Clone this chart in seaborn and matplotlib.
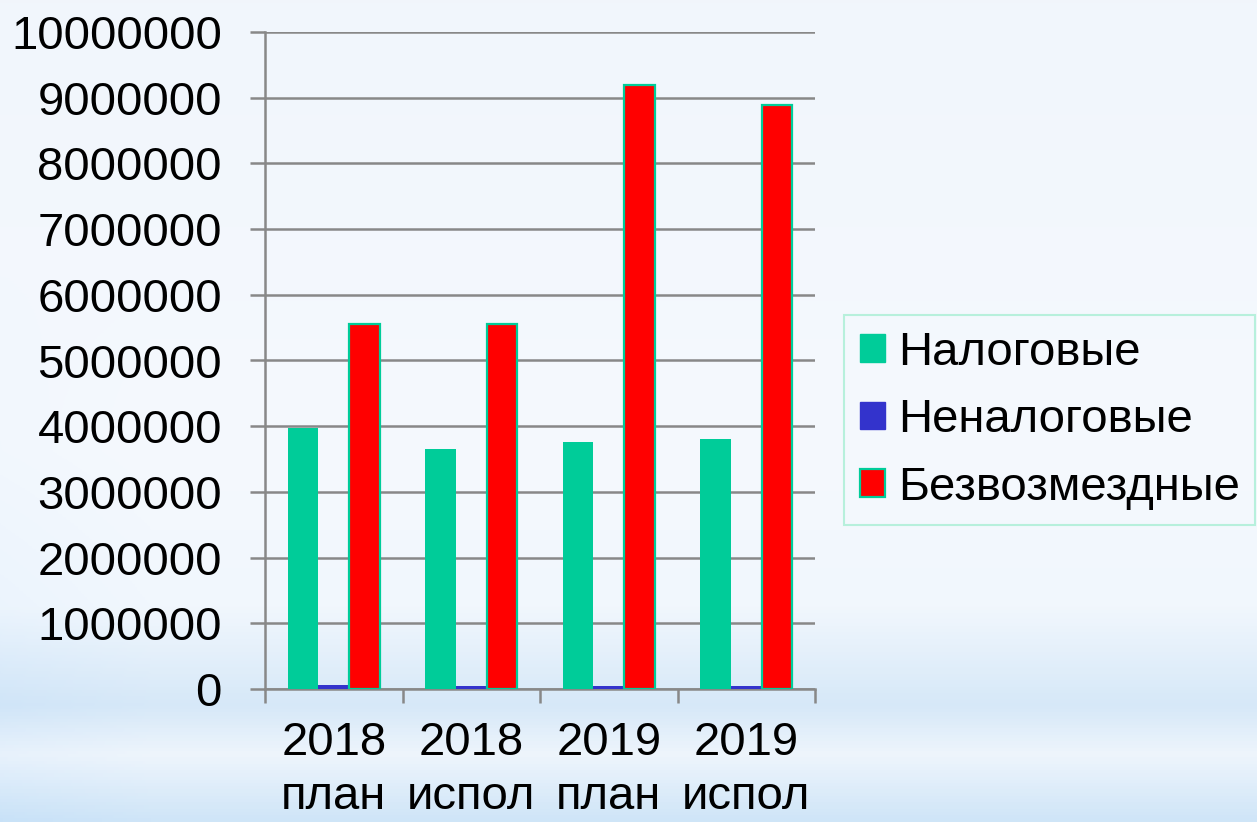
import numpy as np
import pandas as pd
import matplotlib
matplotlib.use("Agg")
import matplotlib.pyplot as plt
from matplotlib.colors import LinearSegmentedColormap
from matplotlib.patches import Patch
import seaborn as sns

# ---- data ----
categories = ["2018\nплан", "2018\nиспол", "2019\nплан", "2019\nиспол"]
series_names = ["Налоговые", "Неналоговые", "Безвозмездные"]
nalogovye = [3970000, 3660000, 3760000, 3810000]
nenalogovye = [65000, 45000, 40000, 40000]
bezvozmezdnye = [5560000, 5560000, 9190000, 8890000]
y_ticks = [0, 1000000, 2000000, 3000000, 4000000, 5000000,
           6000000, 7000000, 8000000, 9000000, 10000000]

colors = ["#00CC99", "#3333CC", "#FF0000"]

df = pd.DataFrame({
    "cat": categories * 3,
    "series": sum([[s] * len(categories) for s in series_names], []),
    "val": nalogovye + nenalogovye + bezvozmezdnye,
})

sns.set_theme(style="white")
plt.rcParams["font.family"] = ["Liberation Sans", "DejaVu Sans"]
plt.rcParams["text.color"] = "black"

W, H = 1257, 822
fig = plt.figure(figsize=(W / 100, H / 100), dpi=100)

# ---- background gradient (slide backdrop) ----
bg = fig.add_axes([0, 0, 1, 1], zorder=-10)
stops = [(0.0, "#F1F6FC"), (0.55, "#F5F9FE"), (0.74, "#F1F7FD"),
         (0.86, "#D6E8F8"), (0.92, "#EEF5FC"), (1.0, "#CFE5F8")]
cmap = LinearSegmentedColormap.from_list("bgv", stops)
yy = np.linspace(0, 1, H)[:, None]
xx = np.linspace(0, 1, W)[None, :]
img = cmap(np.repeat(yy, W, axis=1))[..., :3]
edge = np.clip(1 - xx / 0.12, 0, 1) * 0.04 * np.clip((yy - 0.3) / 0.5, 0, 1)
img = img - edge[..., None] * np.array([0.6, 0.3, 0.0])
bg.imshow(img, aspect="auto", extent=[0, 1, 1, 0])
bg.set_axis_off()

# ---- main axes ----
left, right = 265 / W, 815 / W
bottom, top = (H - 689) / H, (H - 32) / H
ax = fig.add_axes([left, bottom, right - left, top - bottom])
ax.set_facecolor("none")

sns.barplot(data=df, x="cat", y="val", hue="series", hue_order=series_names,
            palette=colors, width=0.67, saturation=1, linewidth=0,
            ax=ax, legend=False, zorder=3)

for bar in ax.containers[2]:
    bar.set_edgecolor("#00CC99")
    bar.set_linewidth(1.6)

ax.set_xlim(-0.5, len(categories) - 0.5)
ax.set_ylim(0, 10000000)
ax.set_yticks(y_ticks)
ax.set_yticklabels([str(v) for v in y_ticks])
ax.set_xlabel("")
ax.set_ylabel("")

grid_c = "#888888"
ax.yaxis.grid(True, color=grid_c, linewidth=1.8, zorder=0)
ax.set_axisbelow(True)
for s in ["top", "right"]:
    ax.spines[s].set_visible(False)
for s in ["left", "bottom"]:
    ax.spines[s].set_color(grid_c)
    ax.spines[s].set_linewidth(1.8)

fs = 34
ax.tick_params(axis="y", which="major", length=11, width=1.8, color=grid_c,
               labelsize=fs, pad=20, labelcolor="black", left=True)
ax.set_xticks(range(len(categories)))
ax.set_xticklabels(categories, linespacing=1.3)
ax.tick_params(axis="x", which="major", length=0, labelsize=fs, pad=23,
               labelcolor="black")
ax.set_xticks(np.arange(-0.5, len(categories), 1.0), minor=True)
ax.tick_params(axis="x", which="minor", length=10, width=1.8, color=grid_c,
               bottom=True)

# ---- legend ----
handles = [Patch(facecolor=colors[0], edgecolor=colors[0]),
           Patch(facecolor=colors[1], edgecolor=colors[1]),
           Patch(facecolor=colors[2], edgecolor="#00CC99", linewidth=1.6)]
leg = fig.legend(handles, series_names, loc="upper left",
                 bbox_to_anchor=(844 / W, 1 - 315 / H),
                 fontsize=fs, frameon=True, fancybox=False,
                 handlelength=0.53, handleheight=0.53, handletextpad=0.28,
                 labelspacing=0.5, borderpad=0.33, borderaxespad=0)
for t in leg.get_texts():
    t.set_color("black")
leg.get_frame().set_edgecolor("#A8EED4")
leg.get_frame().set_linewidth(1.5)
leg.get_frame().set_facecolor("none")

fig.savefig("out.png", dpi=100)
